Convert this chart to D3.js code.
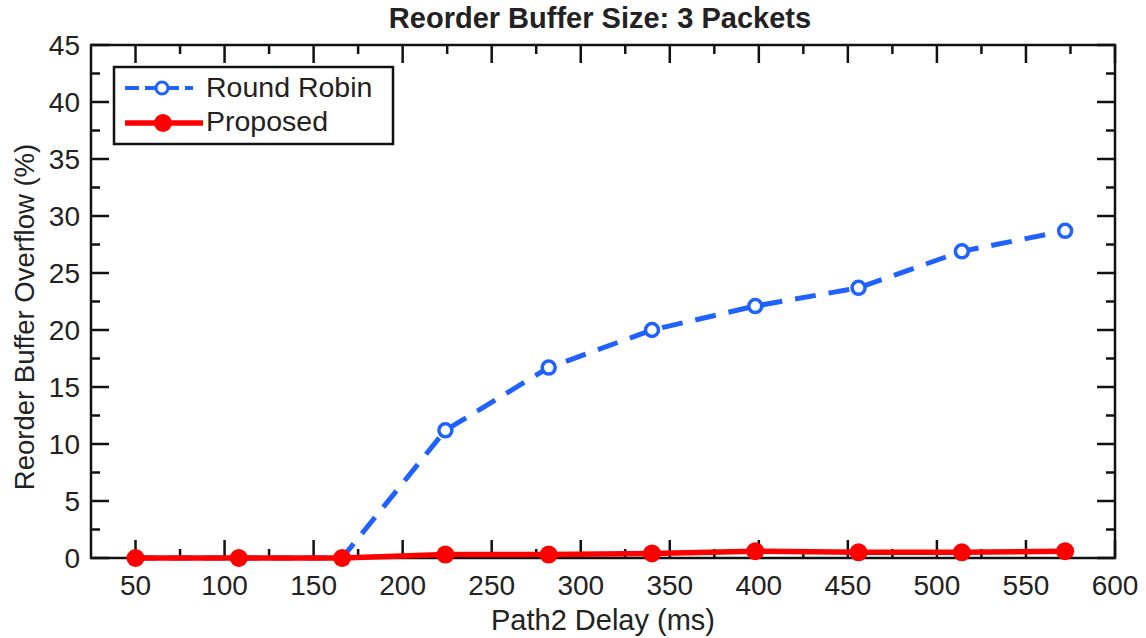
<!DOCTYPE html>
<meta charset="utf-8">
<script src="https://d3js.org/d3.v7.min.js"></script>
<style>
body { margin: 0; background: #fff; }
text { font-family: "Liberation Sans", Arial, sans-serif; fill: #222; }
</style>
<svg id="chart" width="1146" height="638"></svg>
<script>
// data
const delays = [50, 108, 166, 224, 282, 340, 398, 456, 514, 572]
const roundRobin = [0, 0, 0, 11.2, 16.7, 20.0, 22.1, 23.7, 26.9, 28.7]
const proposed = [0, 0, 0, 0.3, 0.3, 0.4, 0.6, 0.5, 0.5, 0.6]
const xTicks = [50, 100, 150, 200, 250, 300, 350, 400, 450, 500, 550, 600]
const yTicks = [0, 5, 10, 15, 20, 25, 30, 35, 40, 45]

const svg = d3.select("#chart")
const pLeft = 91, pRight = 1115, pTop = 45, pBottom = 558

const x = d3.scaleLinear().domain([25, 600]).range([pLeft, pRight])
const y = d3.scaleLinear().domain([0, 45]).range([pBottom, pTop])

const blue = "#1f62ff", red = "#ff0000"

// frame
svg.append("rect")
  .attr("x", pLeft).attr("y", pTop)
  .attr("width", pRight - pLeft).attr("height", pBottom - pTop)
  .attr("fill", "none").attr("stroke", "#111").attr("stroke-width", 2.5)

// inward ticks (major + minor) on all four sides
const xMinor = d3.range(75, 600, 50)
const yMinor = d3.range(2.5, 45, 5)
const tk = svg.append("g").attr("stroke", "#111").attr("stroke-width", 2.5)
xTicks.forEach(v => {
  tk.append("line").attr("x1", x(v)).attr("x2", x(v)).attr("y1", pBottom).attr("y2", pBottom - 18)
  tk.append("line").attr("x1", x(v)).attr("x2", x(v)).attr("y1", pTop).attr("y2", pTop + 18)
})
xMinor.forEach(v => {
  tk.append("line").attr("x1", x(v)).attr("x2", x(v)).attr("y1", pBottom).attr("y2", pBottom - 9)
  tk.append("line").attr("x1", x(v)).attr("x2", x(v)).attr("y1", pTop).attr("y2", pTop + 9)
})
yTicks.forEach(v => {
  tk.append("line").attr("x1", pLeft).attr("x2", pLeft + 18).attr("y1", y(v)).attr("y2", y(v))
  tk.append("line").attr("x1", pRight).attr("x2", pRight - 18).attr("y1", y(v)).attr("y2", y(v))
})
yMinor.forEach(v => {
  tk.append("line").attr("x1", pLeft).attr("x2", pLeft + 9).attr("y1", y(v)).attr("y2", y(v))
  tk.append("line").attr("x1", pRight).attr("x2", pRight - 9).attr("y1", y(v)).attr("y2", y(v))
})

// tick labels
svg.append("g").selectAll("text").data(xTicks).join("text")
  .attr("x", d => x(d)).attr("y", pBottom + 37)
  .attr("text-anchor", "middle").attr("font-size", 28)
  .text(d => d)
svg.append("g").selectAll("text").data(yTicks).join("text")
  .attr("x", pLeft - 11).attr("y", d => y(d) + 10)
  .attr("text-anchor", "end").attr("font-size", 28)
  .text(d => d)

// axis titles
svg.append("text").attr("x", 603).attr("y", 630)
  .attr("text-anchor", "middle").attr("font-size", 29)
  .text("Path2 Delay (ms)")
svg.append("text")
  .attr("transform", "translate(34,317) rotate(-90)")
  .attr("text-anchor", "middle").attr("font-size", 27.5)
  .text("Reorder Buffer Overflow (%)")
svg.append("text").attr("x", 600).attr("y", 28)
  .attr("text-anchor", "middle").attr("font-size", 29).attr("font-weight", "bold")
  .text("Reorder Buffer Size: 3 Packets")

// series
const line = d3.line().x(d => x(d[0])).y(d => y(d[1]))
const rr = delays.map((d, i) => [d, roundRobin[i]])
const pr = delays.map((d, i) => [d, proposed[i]])

svg.append("path").datum(rr).attr("d", line)
  .attr("fill", "none").attr("stroke", blue).attr("stroke-width", 5)
  .attr("stroke-dasharray", "21,13")
svg.append("g").selectAll("circle").data(rr).join("circle")
  .attr("cx", d => x(d[0])).attr("cy", d => y(d[1])).attr("r", 6.5)
  .attr("fill", "#fff").attr("stroke", blue).attr("stroke-width", 3.5)

svg.append("path").datum(pr).attr("d", line)
  .attr("fill", "none").attr("stroke", red).attr("stroke-width", 5.5)
svg.append("g").selectAll("circle").data(pr).join("circle")
  .attr("cx", d => x(d[0])).attr("cy", d => y(d[1])).attr("r", 9)
  .attr("fill", red)

// legend
const lg = svg.append("g")
lg.append("rect").attr("x", 114).attr("y", 67).attr("width", 279).attr("height", 77)
  .attr("fill", "#fff").attr("stroke", "#111").attr("stroke-width", 2.5)
lg.append("line").attr("x1", 125).attr("x2", 193).attr("y1", 88).attr("y2", 88)
  .attr("stroke", blue).attr("stroke-width", 4).attr("stroke-dasharray", "14,6")
lg.append("circle").attr("cx", 162).attr("cy", 88).attr("r", 6)
  .attr("fill", "#fff").attr("stroke", blue).attr("stroke-width", 3)
lg.append("line").attr("x1", 125).attr("x2", 203).attr("y1", 123).attr("y2", 123)
  .attr("stroke", red).attr("stroke-width", 5.5)
lg.append("circle").attr("cx", 163).attr("cy", 123).attr("r", 9).attr("fill", red)
lg.append("text").attr("x", 206).attr("y", 97).attr("font-size", 28.5).text("Round Robin")
lg.append("text").attr("x", 206).attr("y", 131).attr("font-size", 28.5).text("Proposed")
</script>
